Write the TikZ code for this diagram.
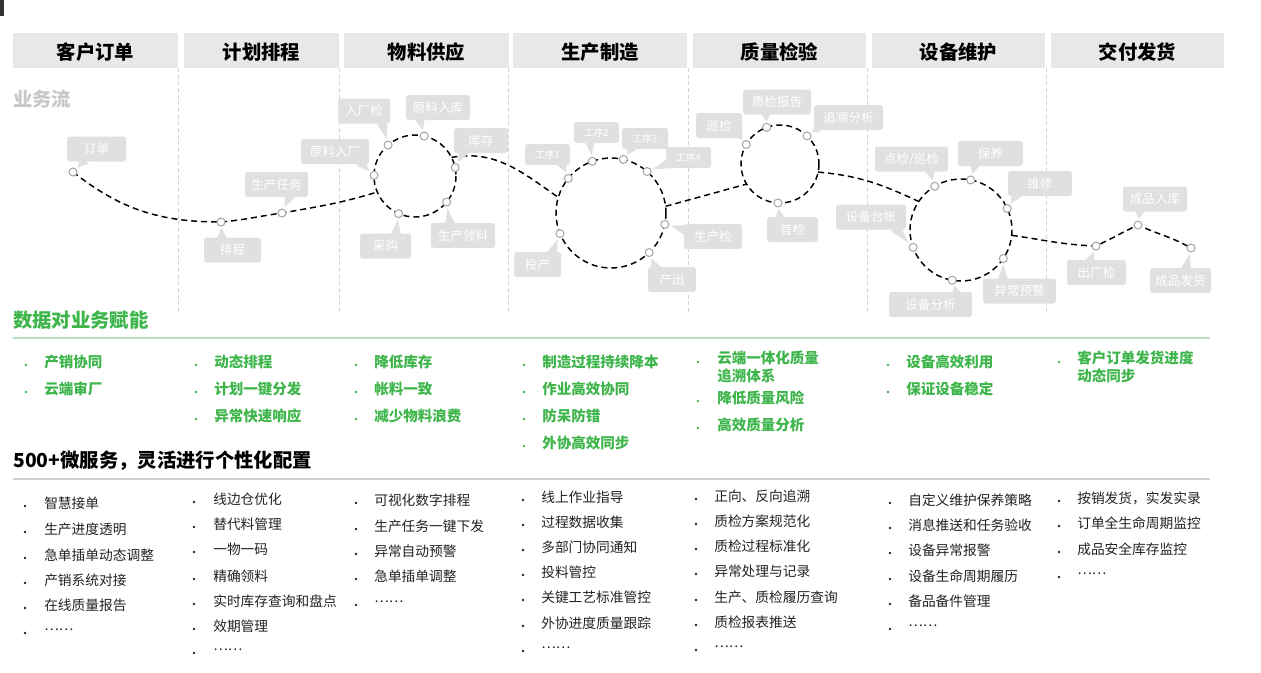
\documentclass[tikz,border=0pt]{standalone}
\usepackage{fontspec}
\setmainfont{Noto Sans CJK SC}
\usetikzlibrary{calc}

\definecolor{headgray}{HTML}{E8E8E8}
\definecolor{bubblegray}{HTML}{E0E0E0}
\definecolor{sepgray}{HTML}{D4D4D4}
\definecolor{ptgray}{HTML}{A8A8A8}
\definecolor{titlegray}{HTML}{C8C8C8}
\definecolor{flowgreen}{HTML}{3DB54A}
\definecolor{linegreen}{HTML}{B8E0BC}
\definecolor{linegray}{HTML}{D2D2D2}
\definecolor{textblack}{HTML}{222222}

\tikzset{
  head/.style={fill=headgray, minimum height=35*0.75pt, inner sep=0pt, text height=14pt, text depth=0pt, font=\bfseries\fontsize{14.5}{16}\selectfont},
  sep/.style={sepgray, line width=0.75pt, dash pattern=on 3pt off 2pt},
  flow/.style={black, line width=1.1pt, dash pattern=on 4.5pt off 3pt},
  pt/.style={ptgray, fill=white, line width=0.8pt},
  bubble/.style={fill=bubblegray, text=white, rounded corners=2pt, minimum height=25*0.75pt, inner sep=0pt, font=\fontsize{9.4}{10}\selectfont},
  bubblesmall/.style={bubble, minimum height=21*0.75pt, font=\fontsize{7.2}{8}\selectfont},
  section/.style={anchor=west, inner sep=0pt, font=\bfseries\fontsize{14.5}{16}\selectfont},
  gtext/.style={anchor=west, inner sep=0pt, text=flowgreen, align=left, font=\bfseries\fontsize{10.9}{13.5}\selectfont},
  btext/.style={anchor=west, inner sep=0pt, text=textblack, font=\fontsize{10.3}{12}\selectfont},
}

% callout bubble: style, name, centre:width, tail base offset, point, text
\def\callout[#1](#2)(#3:#4)(#5)(#6)#7{%
  \coordinate (#2-b) at ($(#3)+(#5)$);
  \fill[bubblegray] ($(#2-b)!4pt!90:(#6)$) -- ($(#6)!4.5pt!(#2-b)$) -- ($(#2-b)!4pt!-90:(#6)$) -- cycle;
  \node[#1, minimum width=#4*0.75pt] (#2) at (#3) {#7};
  \draw[pt] (#6) circle (4);}
% green and black list items: name, dot x, text x, y, text
\def\gitem(#1)(#2,#3,#4)#5{\fill[flowgreen] (#2,#4+3) circle (1.4); \node[gtext] (#1) at (#3,#4) {#5};}
\def\bitem(#1)(#2,#3,#4)#5{\fill[textblack] (#2,#4+3) circle (1.3); \node[btext] (#1) at (#3,#4) {#5};}

\begin{document}
\begin{tikzpicture}[x=0.75pt,y=-0.75pt]
			%%%%% START %%%%%
			\useasboundingbox (0,0) rectangle (1261,672);
			\fill[black!80] (0,0) rectangle (4,16);
			
			\node[head, minimum width=165*0.75pt] (h-khdd) at (95.5,50.5) {客户订单};
			\node[head, minimum width=155*0.75pt] (h-jhpc) at (261.5,50.5) {计划排程};
			\node[head, minimum width=165*0.75pt] (h-wlgy) at (426.5,50.5) {物料供应};
			\node[head, minimum width=174*0.75pt] (h-sczz) at (600,50.5) {生产制造};
			\node[head, minimum width=173*0.75pt] (h-zljy) at (779.5,50.5) {质量检验};
			\node[head, minimum width=173*0.75pt] (h-sbwh) at (958.5,50.5) {设备维护};
			\node[head, minimum width=173*0.75pt] (h-jffh) at (1137.5,50.5) {交付发货};
			
			\draw[sep] (178,68) -- (178,312);
			\draw[sep] (339,68) -- (339,312);
			\draw[sep] (508,68) -- (508,312);
			\draw[sep] (688,68) -- (688,312);
			\draw[sep] (867,68) -- (867,312);
			\draw[sep] (1046,68) -- (1046,312);
			
			\node[section, text=titlegray] (t-ywl) at (13,99) {业务流};
			
			%%%%% FLOW %%%%%
			\coordinate (p-dd) at (73,172);
			\coordinate (p-pc) at (221,222);
			\coordinate (p-scrw) at (282,213);
			\coordinate (c1) at (415,176);
			\coordinate (c1-in) at ($(c1)+(157:41)$);
			\coordinate (c1-out) at ($(c1)+(333:41)$);
			\coordinate (p-ylrc) at ($(c1)+(181:41)$);
			\coordinate (p-rcj) at ($(c1)+(229:41)$);
			\coordinate (p-ylrk) at ($(c1)+(283:41)$);
			\coordinate (p-kc) at ($(c1)+(348:41)$);
			\coordinate (p-scll) at ($(c1)+(39.5:41)$);
			\coordinate (p-cg) at ($(c1)+(113.6:41)$);
			\coordinate (c2) at (611,213);
			\coordinate (c2-in) at ($(c2)+(196.5:55)$);
			\coordinate (c2-out) at ($(c2)+(353:55)$);
			\coordinate (p-gx1) at ($(c2)+(219:55)$);
			\coordinate (p-gx2) at ($(c2)+(250:55)$);
			\coordinate (p-gx3) at ($(c2)+(283:55)$);
			\coordinate (p-gx4) at ($(c2)+(311:55)$);
			\coordinate (p-scj) at ($(c2)+(12:55)$);
			\coordinate (p-cc) at ($(c2)+(46:55)$);
			\coordinate (p-tc) at ($(c2)+(158:55)$);
			\coordinate (c3) at (780,164);
			\coordinate (c3-in) at ($(c3)+(149:39)$);
			\coordinate (c3-out) at ($(c3)+(12:39)$);
			\coordinate (p-xj) at ($(c3)+(210:39)$);
			\coordinate (p-zjbg) at ($(c3)+(250:39)$);
			\coordinate (p-zsfx) at ($(c3)+(314:39)$);
			\coordinate (p-sj) at ($(c3)+(93:39)$);
			\coordinate (c4) at (961,230);
			\coordinate (c4-in) at ($(c4)+(214:51)$);
			\coordinate (c4-out) at ($(c4)+(6:51)$);
			\coordinate (p-djxj) at ($(c4)+(239:51)$);
			\coordinate (p-by) at ($(c4)+(281:51)$);
			\coordinate (p-wx) at ($(c4)+(335:51)$);
			\coordinate (p-ycyj) at ($(c4)+(34:51)$);
			\coordinate (p-sbfx) at ($(c4)+(100:51)$);
			\coordinate (p-sbtz) at ($(c4)+(160:51)$);
			\coordinate (p-ccj) at (1096,246);
			\coordinate (p-cprk) at (1138,225);
			\coordinate (p-cpfh) at (1191,248);
			
			\draw[flow] (p-dd) to[out=-38,in=180] (p-pc) to[out=5,in=188] (p-scrw) to[out=10,in=197] (c1-in);
			\draw[flow] (c1) circle (41);
			\draw[flow] (c1-out) to[out=10,in=145] (c2-in);
			\draw[flow] (c2) circle (55);
			\draw[flow] (c2-out) -- (c3-in);
			\draw[flow] (c3) circle (39);
			\draw[flow] (c3-out) to[out=-5,in=155] (c4-in);
			\draw[flow] (c4) circle (51);
			\draw[flow] (c4-out) to[out=-8,in=178] (p-ccj) to[out=25,in=205] (p-cprk) to[out=-25,in=150] (p-cpfh);
			
			\callout[bubble](b-dd)(96.5,149:59)(-12,11)(p-dd){订单}
			\callout[bubble](b-pc)(232.5,250:57)(-10.5,-11)(p-pc){排程}
			\callout[bubble](b-scrw)(276.5,184.5:63)(13.5,10.5)(p-scrw){生产任务}
			\callout[bubble](b-ylrc)(335,151.5:68)(25,10.5)(p-ylrc){原料入厂}
			\callout[bubble](b-rcj)(364,111:52)(18,11)(p-rcj){入厂检}
			\callout[bubble](b-ylrk)(438,107.5:64)(-18,10.5)(p-ylrk){原料入库}
			\callout[bubble](b-kc)(481,140.5:54)(-17,10.5)(p-kc){库存}
			\callout[bubble](b-scll)(463,235.5:64)(-13,-10.5)(p-scll){生产领料}
			\callout[bubble](b-cg)(385.5,246:51)(10.5,-11)(p-cg){采购}
			\callout[bubblesmall](b-gx1)(547.5,154.5:45)(14.5,8.5)(p-gx1){工序1}
			\callout[bubblesmall](b-gx2)(596.5,132.5:45)(-6.5,8.5)(p-gx2){工序2}
			\callout[bubblesmall](b-gx3)(645,138.5:46)(-13,8.5)(p-gx3){工序3}
			\callout[bubblesmall](b-gx4)(688.5,157.5:45)(-18.5,5.5)(p-gx4){工序4}
			\callout[bubble](b-scj)(713,236.5:58)(-27,-6.5)(p-scj){生产检}
			\callout[bubble](b-cc)(672,279.5:48)(-16,-10.5)(p-cc){产出}
			\callout[bubble](b-tc)(537.5,264.5:47)(14.5,-10.5)(p-tc){投产}
			\callout[bubble](b-xj)(719,125.5:46)(19,8.5)(p-xj){巡检}
			\callout[bubble](b-zjbg)(777,102:68)(-11,11)(p-zjbg){质检报告}
			\callout[bubble](b-zsfx)(848.5,117.5:69)(-30.5,10.5)(p-zsfx){追溯分析}
			\callout[bubble](b-sj)(792.5,229.5:51)(-12.5,-10.5)(p-sj){首检}
			\callout[bubble](b-djxj)(911.5,159:73)(18.5,11)(p-djxj){点检/巡检}
			\callout[bubble](b-by)(990.5,153.5:65)(-15.5,10.5)(p-by){保养}
			\callout[bubble](b-wx)(1040,183.5:64)(-23,10.5)(p-wx){维修}
			\callout[bubble](b-sbtz)(871,217:70)(24,11)(p-sbtz){设备台帐}
			\callout[bubble](b-ycyj)(1019.5,291:73)(-16.5,-11)(p-ycyj){异常预警}
			\callout[bubble](b-sbfx)(930.5,304.5:83)(26.5,-9.5)(p-sbfx){设备分析}
			\callout[bubble](b-ccj)(1096.5,272.5:59)(-6.5,-10.5)(p-ccj){出厂检}
			\callout[bubble](b-cprk)(1155,199:64)(-15,11)(p-cprk){成品入库}
			\callout[bubble](b-cpfh)(1180.5,280.5:61)(5.5,-10.5)(p-cpfh){成品发货}
			
			%%%%% GREEN %%%%%
			\node[section, text=flowgreen] (t-sjfn) at (13,320) {数据对业务赋能};
			\draw[linegreen, line width=1.5pt] (13,338) -- (1210,338);
			
			\gitem(g11)(26,44,362){产销协同}
			\gitem(g12)(26,44,389){云端审厂}
			\gitem(g21)(196,214,362){动态排程}
			\gitem(g22)(196,214,389){计划一键分发}
			\gitem(g23)(196,214,416){异常快速响应}
			\gitem(g31)(356,374,362){降低库存}
			\gitem(g32)(356,374,389){帐料一致}
			\gitem(g33)(356,374,416){减少物料浪费}
			\gitem(g41)(524,542,362){制造过程持续降本}
			\gitem(g42)(524,542,389){作业高效协同}
			\gitem(g43)(524,542,416){防呆防错}
			\gitem(g44)(524,542,443){外协高效同步}
			\fill[flowgreen] (698,362) circle (1.4);
			\node[gtext] (g51) at (717,367) {云端一体化质量\\追溯体系};
			\gitem(g52)(698,717,398){降低质量风险}
			\gitem(g53)(698,717,425){高效质量分析}
			\gitem(g61)(888,906,362){设备高效利用}
			\gitem(g62)(888,906,389){保证设备稳定}
			\fill[flowgreen] (1059,362) circle (1.4);
			\node[gtext] (g71) at (1077,367) {客户订单发货进度\\动态同步};
			
			%%%%% SERVICES %%%%%
			\node[section, text=black] (t-wfw) at (13,461) {500+微服务，灵活进行个性化配置};
			\draw[linegray, line width=1.5pt] (13,479) -- (1210,479);
			
			\bitem(b11)(25,44,503){智慧接单}
			\bitem(b12)(25,44,529){生产进度透明}
			\bitem(b13)(25,44,555){急单插单动态调整}
			\bitem(b14)(25,44,580){产销系统对接}
			\bitem(b15)(25,44,605){在线质量报告}
			\bitem(b16)(25,44,630){……}
			\bitem(b21)(194,213,499){线边仓优化}
			\bitem(b22)(194,213,524){替代料管理}
			\bitem(b23)(194,213,549){一物一码}
			\bitem(b24)(194,213,576){精确领料}
			\bitem(b25)(194,213,601){实时库存查询和盘点}
			\bitem(b26)(194,213,626){效期管理}
			\bitem(b27)(194,213,650){……}
			\bitem(b31)(356,374,500){可视化数字排程}
			\bitem(b32)(356,374,526){生产任务一键下发}
			\bitem(b33)(356,374,551){异常自动预警}
			\bitem(b34)(356,374,576){急单插单调整}
			\bitem(b35)(356,374,602){……}
			\bitem(b41)(523,541,497){线上作业指导}
			\bitem(b42)(523,541,522){过程数据收集}
			\bitem(b43)(523,541,547){多部门协同通知}
			\bitem(b44)(523,541,572){投料管控}
			\bitem(b45)(523,541,597){关键工艺标准管控}
			\bitem(b46)(523,541,623){外协进度质量跟踪}
			\bitem(b47)(523,541,648){……}
			\bitem(b51)(696,714,496){正向、反向追溯}
			\bitem(b52)(696,714,521){质检方案规范化}
			\bitem(b53)(696,714,546){质检过程标准化}
			\bitem(b54)(696,714,571){异常处理与记录}
			\bitem(b55)(696,714,597){生产、质检履历查询}
			\bitem(b56)(696,714,622){质检报表推送}
			\bitem(b57)(696,714,647){……}
			\bitem(b61)(890,908,500){自定义维护保养策略}
			\bitem(b62)(890,908,525){消息推送和任务验收}
			\bitem(b63)(890,908,550){设备异常报警}
			\bitem(b64)(890,908,576){设备生命周期履历}
			\bitem(b65)(890,908,601){备品备件管理}
			\bitem(b66)(890,908,626){……}
			\bitem(b71)(1059,1077,498){按销发货，实发实录}
			\bitem(b72)(1059,1077,523){订单全生命周期监控}
			\bitem(b73)(1059,1077,549){成品安全库存监控}
			\bitem(b74)(1059,1077,574){……}
			
			%%%%% END %%%%%
\end{tikzpicture}
\end{document}
